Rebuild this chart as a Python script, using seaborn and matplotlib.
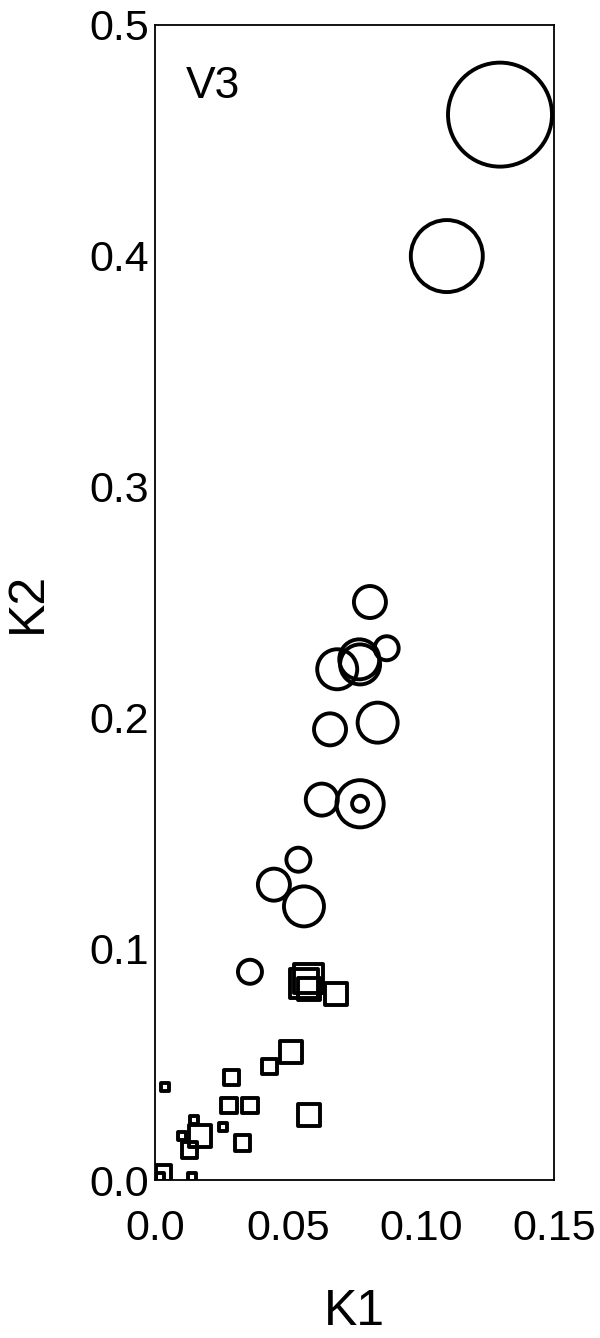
import pandas as pd
import matplotlib
matplotlib.use("Agg")
import matplotlib.pyplot as plt
from matplotlib.ticker import MultipleLocator, FormatStrFormatter
import seaborn as sns

# -----------------------
# DATOS
# -----------------------
# circulos (grupo superior)
k1_circ = [0.1297, 0.1097, 0.0808, 0.0871, 0.0768, 0.0771, 0.0685, 0.0837,
           0.0658, 0.0771, 0.0771, 0.0627, 0.0539, 0.0447, 0.0560, 0.0357]
k2_circ = [0.461, 0.3998, 0.2501, 0.2301, 0.2253, 0.2231, 0.2210, 0.1979,
           0.1950, 0.1628, 0.1628, 0.1646, 0.1386, 0.1278, 0.1184, 0.0901]
v3_circ = [13, 9, 4, 3, 5, 5, 5, 5, 4, 5.9, 2, 4, 3, 4, 5, 3]

# cuadrados (grupo inferior)
k1_sq = [0.0560, 0.0578, 0.0580, 0.0680, 0.0510, 0.0429, 0.0288, 0.0038,
         0.0278, 0.0357, 0.0579, 0.0148, 0.0257, 0.0169, 0.0100, 0.0129,
         0.0330, 0.0031, 0.0138, 0.0019]
k2_sq = [0.0852, 0.0872, 0.0826, 0.0804, 0.0552, 0.0491, 0.0443, 0.0404,
         0.0322, 0.0322, 0.0282, 0.0260, 0.0231, 0.0191, 0.0191, 0.0130,
         0.0160, 0.0030, 0.0013, 0.0013]
v3_sq = [3.6, 3.6, 2.75, 2.75, 2.75, 1.9, 1.9, 1.0,
         1.9, 1.9, 2.75, 1.0, 1.0, 2.75, 1.0, 1.9,
         1.9, 1.9, 1.0, 1.0]

xticks = [0.0, 0.05, 0.10, 0.15]
xtick_labels = ["0.0", "0.05", "0.10", "0.15"]

df = pd.concat([
    pd.DataFrame({"K1": k1_sq, "K2": k2_sq, "V3": v3_sq, "forma": "cuadrado"}),
    pd.DataFrame({"K1": k1_circ, "K2": k2_circ, "V3": v3_circ, "forma": "circulo"}),
], ignore_index=True)

# -----------------------
# GRAFICO
# -----------------------
sns.set_style("white")
plt.rcParams["font.family"] = ["Liberation Sans", "DejaVu Sans"]
plt.rcParams["text.color"] = "black"
plt.rcParams["axes.labelcolor"] = "black"

fig = plt.figure(figsize=(6, 13.38), dpi=100)
ax = fig.add_axes([155 / 600, 1 - 1180 / 1338, 399 / 600, 1155.5 / 1338])

tamanos = {v: (0.72 * 8 * v) ** 2 for v in df["V3"].unique()}
sns.scatterplot(data=df, x="K1", y="K2", size="V3", sizes=tamanos,
                style="forma", markers={"cuadrado": "s", "circulo": "o"},
                facecolor="none", edgecolor="black", linewidth=2.8,
                legend=False, ax=ax, clip_on=True)

ax.set_xlim(0, 0.15)
ax.set_ylim(0, 0.5)
ax.set_xticks(xticks, labels=xtick_labels)
ax.xaxis.set_minor_locator(MultipleLocator(0.025))
ax.yaxis.set_major_locator(MultipleLocator(0.1))
ax.yaxis.set_major_formatter(FormatStrFormatter("%.1f"))

ax.tick_params(axis="both", which="both", direction="in", length=4,
               width=0.8, color="0.55", labelcolor="black", labelsize=31)
ax.tick_params(axis="x", which="major", pad=21)
ax.tick_params(axis="y", which="major", pad=4)
for s in ax.spines.values():
    s.set_visible(True)
    s.set_color("black")
    s.set_linewidth(1.3)

ax.set_xlabel("K1", fontsize=36, labelpad=29)
ax.set_ylabel("K2", fontsize=36, labelpad=28)
ax.text(0.078, 0.936, "V3", transform=ax.transAxes, fontsize=32,
        ha="left", va="baseline")

plt.savefig("out.png", dpi=100)
